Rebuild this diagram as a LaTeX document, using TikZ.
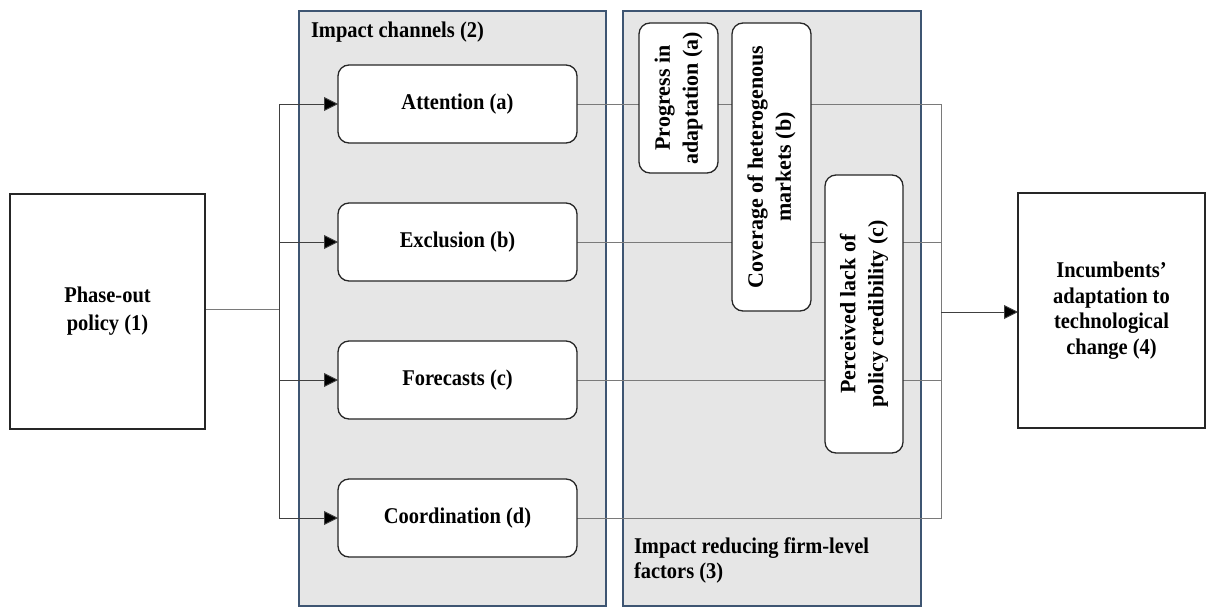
\documentclass[tikz,border=0pt]{standalone}
\usepackage{fontspec}
\setmainfont{Liberation Serif}[FakeStretch=0.91]
\newfontfamily\rotfont{Liberation Serif}
\usetikzlibrary{arrows.meta}
\pgfdeclarelayer{bg}\pgfdeclarelayer{lines}
\pgfsetlayers{bg,lines,main}
\definecolor{grpfill}{HTML}{E6E6E6}
\definecolor{grpline}{HTML}{3E5572}
\definecolor{conn}{HTML}{7A7A7A}
\begin{document}
\begin{tikzpicture}[x=1pt,y=-1pt,
 every node/.style={font=\fontsize{22.5}{28}\selectfont\bfseries, inner sep=0pt, outer sep=0pt},
 mainbox/.style={draw=black!85, line width=1.3pt, fill=white, align=center},
 chanbox/.style={draw=black!85, line width=1.3pt, fill=white, rounded corners=11pt, minimum width=239pt, minimum height=78pt},
 factbox/.style={draw=black!85, line width=1.3pt, fill=white, rounded corners=11pt, rotate=90, align=center, minimum height=79pt, font=\rotfont\fontsize{22}{28}\selectfont\bfseries},
 group/.style={draw=grpline, line width=1.1pt, fill=grpfill, minimum height=595pt},
 conline/.style={draw=conn, line width=0.9pt},
 arrowline/.style={draw=black!75, line width=0.9pt, -{Triangle[length=14pt,width=14pt,fill=black]}}
]
\useasboundingbox (0,0) rectangle (1206,608);
% groups
\begin{pgfonlayer}{bg}
\node[group, minimum width=307pt] (g1) at (452.5,308.5) {};
\node[group, minimum width=298pt] (g2) at (772,308.5) {};
\end{pgfonlayer}
\node[anchor=base west] (t1) at (311,37) {Impact channels (2)};
\node[anchor=base west, align=left, font=\fontsize{22.5}{25}\selectfont\bfseries] (t2) at (634,578) {Impact reducing firm-level\\factors (3)};
% main boxes
\node[mainbox, minimum width=195pt, minimum height=235pt] (phase) at (107.5,311.5) {Phase-out\\policy (1)};
\node[mainbox, minimum width=187pt, minimum height=235pt, font=\fontsize{22.5}{25.5}\selectfont\bfseries] (inc) at (1111.5,310.5) {Incumbents’\\adaptation to\\technological\\change (4)};
% channel boxes
\node[chanbox] (att) at (457.5,104) {Attention (a)};
\node[chanbox] (exc) at (457.5,242) {Exclusion (b)};
\node[chanbox] (for) at (457.5,380) {Forecasts (c)};
\node[chanbox] (coo) at (457.5,518) {Coordination (d)};
% factor boxes
\node[factbox, minimum width=150pt] (fa) at (678.5,98) {Progress in\\adaptation (a)};
\node[factbox, minimum width=288pt] (fb) at (771.5,167) {Coverage of heterogenous\\markets (b)};
\node[factbox, minimum width=278pt, minimum height=78pt] (fc) at (864,314) {Perceived lack of\\policy credibility (c)};
% junctions
\coordinate (jl) at (279,309);
\coordinate (jr) at (941,312);
\begin{pgfonlayer}{lines}
\draw[conline] (jl -| phase.east) -- (jl);
\draw[arrowline] (jl) |- (att.west);
\draw[arrowline] (jl) |- (exc.west);
\draw[arrowline] (jl) |- (for.west);
\draw[arrowline] (jl) |- (coo.west);
\draw[conline] (att.east) -| (jr);
\draw[conline] (exc.east) -| (jr);
\draw[conline] (for.east) -| (jr);
\draw[conline] (coo.east) -| (jr);
\draw[arrowline] (jr) -- (jr -| inc.west);
\end{pgfonlayer}
\end{tikzpicture}
\end{document}
